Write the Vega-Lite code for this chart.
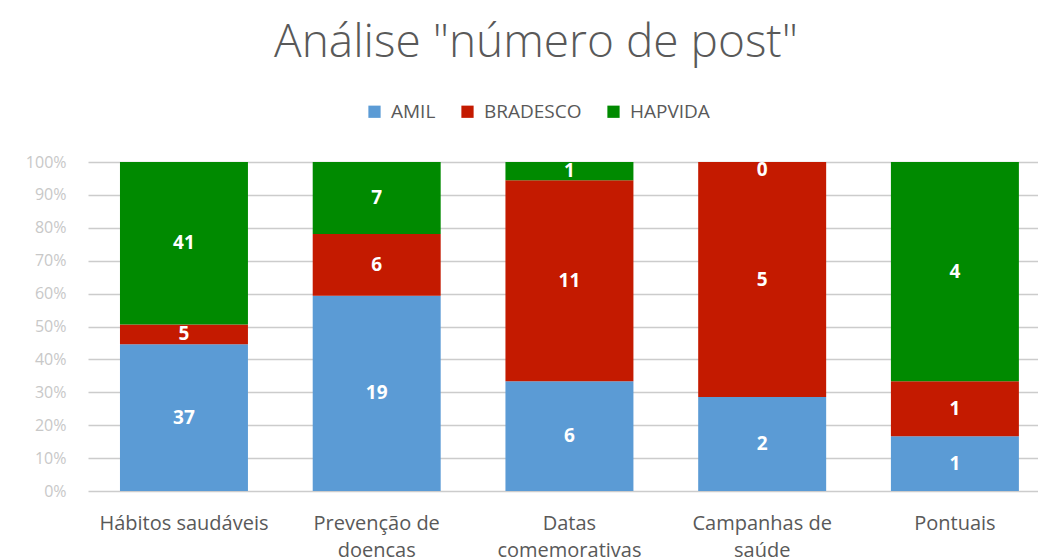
{
  "$schema": "https://vega.github.io/schema/vega-lite/v6.json",
  "autosize": "none",
  "width": 950,
  "height": 329,
  "padding": {"left": 88, "top": 162, "right": 0, "bottom": 69},
  "background": "white",
  "title": {
    "text": "Análise \"número de post\"",
    "anchor": "middle",
    "frame": "group",
    "dx": -27,
    "offset": 35,
    "font": "Open Sans",
    "fontWeight": 300,
    "fontSize": 46,
    "color": "#595959"
  },
  "data": {
    "values": [
      {"categoria": "Hábitos saudáveis", "serie": "AMIL", "ordem": 1, "valor": 37},
      {"categoria": "Hábitos saudáveis", "serie": "BRADESCO", "ordem": 2, "valor": 5},
      {"categoria": "Hábitos saudáveis", "serie": "HAPVIDA", "ordem": 3, "valor": 41},
      {"categoria": "Prevenção de doencas", "serie": "AMIL", "ordem": 1, "valor": 19},
      {"categoria": "Prevenção de doencas", "serie": "BRADESCO", "ordem": 2, "valor": 6},
      {"categoria": "Prevenção de doencas", "serie": "HAPVIDA", "ordem": 3, "valor": 7},
      {"categoria": "Datas comemorativas", "serie": "AMIL", "ordem": 1, "valor": 6},
      {"categoria": "Datas comemorativas", "serie": "BRADESCO", "ordem": 2, "valor": 11},
      {"categoria": "Datas comemorativas", "serie": "HAPVIDA", "ordem": 3, "valor": 1},
      {"categoria": "Campanhas de saúde", "serie": "AMIL", "ordem": 1, "valor": 2},
      {"categoria": "Campanhas de saúde", "serie": "BRADESCO", "ordem": 2, "valor": 5},
      {"categoria": "Campanhas de saúde", "serie": "HAPVIDA", "ordem": 3, "valor": 0},
      {"categoria": "Pontuais", "serie": "AMIL", "ordem": 1, "valor": 1},
      {"categoria": "Pontuais", "serie": "BRADESCO", "ordem": 2, "valor": 1},
      {"categoria": "Pontuais", "serie": "HAPVIDA", "ordem": 3, "valor": 4}
    ]
  },
  "transform": [
    {"stack": "valor", "groupby": ["categoria"], "sort": [{"field": "ordem", "order": "ascending"}], "offset": "normalize", "as": ["y0", "y1"]},
    {"calculate": "datum.valor == 0 ? datum.y1 - 0.025 : (datum.y0 + datum.y1) / 2", "as": "ymid"}
  ],
  "encoding": {
    "x": {
      "field": "categoria",
      "type": "nominal",
      "sort": ["Hábitos saudáveis", "Prevenção de doencas", "Datas comemorativas", "Campanhas de saúde", "Pontuais"],
      "scale": {"paddingInner": 0.336, "paddingOuter": 0.1325, "align": 0.626},
      "axis": {
        "title": null,
        "labelAngle": 0,
        "domain": false,
        "ticks": false,
        "labelPadding": 22,
        "labelFont": "Open Sans",
        "labelFontSize": 20,
        "labelColor": "#595959",
        "labelLineHeight": 27,
        "labelExpr": "(datum.label == 'Hábitos saudáveis' || indexof(datum.label, ' ') < 0) ? datum.label : [slice(datum.label, 0, lastindexof(datum.label, ' ')), slice(datum.label, lastindexof(datum.label, ' ') + 1)]"
      }
    }
  },
  "layer": [
    {
      "mark": {"type": "bar"},
      "encoding": {
        "y": {
          "field": "y0",
          "type": "quantitative",
          "scale": {"domain": [0, 1]},
          "axis": {
            "title": null,
            "format": ".0%",
            "values": [0, 0.1, 0.2, 0.3, 0.4, 0.5, 0.6, 0.7, 0.8, 0.9, 1],
            "labelOverlap": false,
            "domain": false,
            "ticks": false,
            "labelPadding": 22,
            "labelFont": "Open Sans",
            "labelFontSize": 16,
            "labelColor": "#c8c8c8",
            "gridColor": "#cccccc",
            "gridWidth": 1.5
          }
        },
        "y2": {"field": "y1"},
        "color": {
          "field": "serie",
          "type": "nominal",
          "scale": {"domain": ["AMIL", "BRADESCO", "HAPVIDA"], "range": ["#5B9BD5", "#C41A00", "#008A00"]},
          "legend": {
            "title": null,
            "orient": "none",
            "direction": "horizontal",
            "legendX": 277,
            "legendY": -60,
            "symbolType": "square",
            "symbolSize": 150,
            "symbolStrokeWidth": 0,
            "symbolOpacity": 1,
            "labelFont": "Open Sans",
            "labelFontSize": 19,
            "labelColor": "#595959",
            "columnPadding": 22,
            "labelOffset": 7
          }
        }
      }
    },
    {
      "mark": {"type": "text", "color": "white", "font": "Open Sans", "fontWeight": "bold", "fontSize": 19, "baseline": "middle"},
      "encoding": {
        "y": {
          "field": "ymid",
          "type": "quantitative",
          "axis": {
            "title": null,
            "format": ".0%",
            "values": [0, 0.1, 0.2, 0.3, 0.4, 0.5, 0.6, 0.7, 0.8, 0.9, 1],
            "labelOverlap": false,
            "domain": false,
            "ticks": false,
            "labelPadding": 22,
            "labelFont": "Open Sans",
            "labelFontSize": 16,
            "labelColor": "#c8c8c8",
            "gridColor": "#cccccc",
            "gridWidth": 1.5
          }
        },
        "text": {"field": "valor", "type": "quantitative"}
      }
    }
  ],
  "config": {"view": {"stroke": null}}
}
